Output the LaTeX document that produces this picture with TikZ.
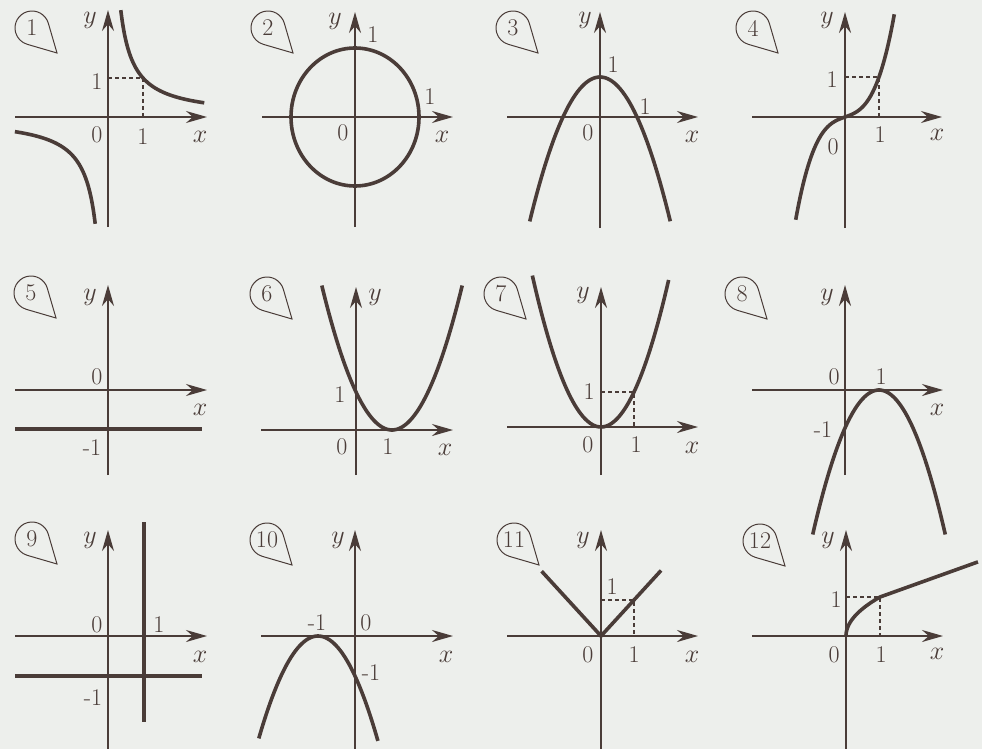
\RequirePackage{fix-cm}
\documentclass[tikz,border=0pt]{standalone}
\usepackage{tikz}
\usetikzlibrary{arrows.meta}
\definecolor{ink}{RGB}{74,60,56}
\definecolor{paper}{RGB}{237,239,236}
\newcommand{\lbfont}{\fontsize{24}{28}\selectfont}
\newcommand{\varfont}{\fontsize{26}{30}\selectfont}
\tikzset{
  axisline/.style = {-{Stealth[length=21pt,width=12pt]},line width=2pt,ink},
  curve/.style    = {line width=3.6pt,ink},
  helper/.style   = {ink,line width=1.1pt,dash pattern=on 4pt off 3pt},
  tagline/.style  = {ink,line width=1pt},
  lbl/.style      = {font=\lbfont,text=ink,inner sep=0pt},
  var/.style      = {lbl,font=\varfont}
}
% axes of one panel, ends given relative to its origin
\newcommand{\axes}[4]{%
  \draw[axisline] (#1,0) -- (#2,0);
  \draw[axisline] (0,#3) -- (0,#4);
}
% numbered balloon: name, centre, number
\newcommand{\tagno}[4]{%
  \draw[tagline] (#2,#3) ++(16:17) arc[start angle=16,end angle=254,radius=17]
        -- (#2+25,#3-25) -- cycle;
  \node[lbl] (#1) at (#2,#3) {#4};
}
\newcommand{\lab}[4]{\node[lbl] (#1) at (#2,#3) {#4};}
\newcommand{\vlab}[4]{\node[var] (#1) at (#2,#3) {$#4$};}

\begin{document}
\begin{tikzpicture}[x=1pt,y=1pt]
  \fill[paper] (0,0) rectangle (982,-749);
  \useasboundingbox (0,0) rectangle (982,-749);

  % 1
  \begin{scope}[shift={(108,-117)}]
    \axes{-93}{99}{-110}{107}
    \begin{scope}[x=35pt,y=39pt]
      \draw[helper] (0,1) -- (1,1) -- (1,0);
      \draw[curve] plot[domain=0.365:2.75,samples=60,smooth] (\x,{1/\x});
      \draw[curve] plot[domain=-2.66:-0.365,samples=60,smooth] (\x,{1/\x});
    \end{scope}
    \tagno{t1}{-76}{89}{1}
    \lab{b1}{-11}{35}{1}
    \lab{a1}{35}{-20}{1}
    \lab{o1}{-11}{-18}{0}
    \vlab{x1}{92}{-20}{x}
    \vlab{y1}{-18}{97}{y}
  \end{scope}

  % 2
  \begin{scope}[shift={(355,-117)}]
    \axes{-93}{98}{-110}{105}
    \draw[curve] (0,0) ellipse[x radius=64,y radius=69];
    \tagno{t2}{-87}{89}{2}
    \lab{b2}{18}{82}{1}
    \lab{a2}{75}{20}{1}
    \lab{o2}{-12}{-16}{0}
    \vlab{x2}{87}{-20}{x}
    \vlab{y2}{-20}{96}{y}
  \end{scope}

  % 3
  \begin{scope}[shift={(600,-117)}]
    \axes{-93}{98}{-111}{105}
    \begin{scope}[x=37pt,y=40pt]
      \draw[curve] plot[domain=-1.9:1.9,samples=60,smooth] (\x,{1-\x*\x});
    \end{scope}
    \tagno{t3}{-87}{89}{3}
    \lab{b3}{13}{52}{1}
    \lab{a3}{45}{10}{1}
    \lab{o3}{-12}{-16}{0}
    \vlab{x3}{92}{-20}{x}
    \vlab{y3}{-15}{97}{y}
  \end{scope}

  % 4
  \begin{scope}[shift={(845,-117)}]
    \axes{-93}{97}{-111}{105}
    \begin{scope}[x=34pt,y=40pt]
      \draw[helper] (0,1) -- (1,1) -- (1,0);
      \draw[curve] plot[domain=-1.45:1.45,samples=60,smooth] (\x,{0.3*\x+0.7*\x*\x*\x});
    \end{scope}
    \tagno{t4}{-92}{89}{4}
    \lab{b4}{-13}{37}{1}
    \lab{a4}{35}{-18}{1}
    \lab{o4}{-12}{-30}{0}
    \vlab{x4}{92}{-18}{x}
    \vlab{y4}{-18}{97}{y}
  \end{scope}

  % 5
  \begin{scope}[shift={(108,-390)}]
    \axes{-93}{99}{-85}{105}
    \draw[curve] (-93,-39) -- (94,-39);
    \tagno{t5}{-77}{97}{5}
    \lab{o5}{-11}{13}{0}
    \lab{m5}{-16}{-58}{-1}
    \vlab{x5}{92}{-20}{x}
    \vlab{y5}{-18}{93}{y}
  \end{scope}

  % 6
  \begin{scope}[shift={(356,-430)}]
    \axes{-95}{97}{-45}{143}
    \begin{scope}[x=36pt,y=38pt]
      \draw[curve] plot[domain=-0.95:2.95,samples=60,smooth] (\x,{(\x-1)*(\x-1)});
    \end{scope}
    \tagno{t6}{-89}{136}{6}
    \lab{b6}{-16}{35}{1}
    \lab{a6}{32}{-17}{1}
    \lab{o6}{-14}{-17}{0}
    \vlab{x6}{89}{-20}{x}
    \vlab{y6}{19}{133}{y}
  \end{scope}

  % 7
  \begin{scope}[shift={(601,-427)}]
    \axes{-94}{97}{-48}{140}
    \begin{scope}[x=33pt,y=35pt]
      \draw[helper] (0,1) -- (1,1) -- (1,0);
      \draw[curve] plot[domain=-2.08:2.05,samples=60,smooth] (\x,{\x*\x});
    \end{scope}
    \tagno{t7}{-100}{133}{7}
    \lab{b7}{-12}{35}{1}
    \lab{a7}{35}{-18}{1}
    \lab{o7}{-13}{-18}{0}
    \vlab{x7}{91}{-21}{x}
    \vlab{y7}{-18}{132}{y}
  \end{scope}

  % 8
  \begin{scope}[shift={(845,-390)}]
    \axes{-93}{98}{-85}{105}
    \begin{scope}[x=34pt,y=38pt]
      \draw[curve] plot[domain=-0.95:2.95,samples=60,smooth] (\x,{-(\x-1)*(\x-1)});
    \end{scope}
    \tagno{t8}{-103}{96}{8}
    \lab{o8}{-11}{13}{0}
    \lab{a8}{36}{13}{1}
    \lab{m8}{-22}{-40}{-1}
    \vlab{x8}{92}{-20}{x}
    \vlab{y8}{-18}{93}{y}
  \end{scope}

  % 9
  \begin{scope}[shift={(108,-636)}]
    \axes{-93}{99}{-113}{106}
    \draw[curve] (-93,-40) -- (94,-40);
    \draw[curve] (36,114) -- (36,-86);
    \tagno{t9}{-76}{97}{9}
    \lab{o9}{-11}{11}{0}
    \lab{a9}{51}{11}{1}
    \lab{m9}{-15}{-62}{-1}
    \vlab{x9}{92}{-21}{x}
    \vlab{y9}{-18}{96}{y}
  \end{scope}

  % 10
  \begin{scope}[shift={(355,-636)}]
    \axes{-94}{98}{-113}{106}
    \begin{scope}[x=37pt,y=40pt]
      \draw[curve] plot[domain=-2.6:0.62,samples=60,smooth] (\x,{-(\x+1)*(\x+1)});
    \end{scope}
    \tagno{t10}{-88}{96}{10}
    \lab{m10}{-38}{13}{-1}
    \lab{o10}{11}{13}{0}
    \lab{n10}{16}{-37}{-1}
    \vlab{x10}{91}{-21}{x}
    \vlab{y10}{-17}{96}{y}
  \end{scope}

  % 11
  \begin{scope}[shift={(601,-636)}]
    \axes{-94}{97}{-113}{106}
    \begin{scope}[x=33pt,y=36pt]
      \draw[helper] (0,1) -- (1,1) -- (1,0);
      \draw[curve] (-1.8,1.8) -- (0,0) -- (1.82,1.82);
    \end{scope}
    \tagno{t11}{-87}{96}{11}
    \lab{b11}{11}{49}{1}
    \lab{a11}{33}{-19}{1}
    \lab{o11}{-13}{-19}{0}
    \vlab{x11}{91}{-21}{x}
    \vlab{y11}{-18}{96}{y}
  \end{scope}

  % 12
  \begin{scope}[shift={(846,-636)}]
    \axes{-94}{97}{-113}{106}
    \begin{scope}[x=34pt,y=39pt]
      \draw[helper] (0,1) -- (1,1) -- (1,0);
      \draw[curve] plot[domain=0:1,samples=40,smooth] ({\x*\x},\x) -- (3.88,1.9);
    \end{scope}
    \tagno{t12}{-86}{95}{12}
    \lab{b12}{-10}{36}{1}
    \lab{a12}{35}{-19}{1}
    \lab{o12}{-12}{-19}{0}
    \vlab{x12}{91}{-18}{x}
    \vlab{y12}{-18}{96}{y}
  \end{scope}
\end{tikzpicture}
\end{document}
